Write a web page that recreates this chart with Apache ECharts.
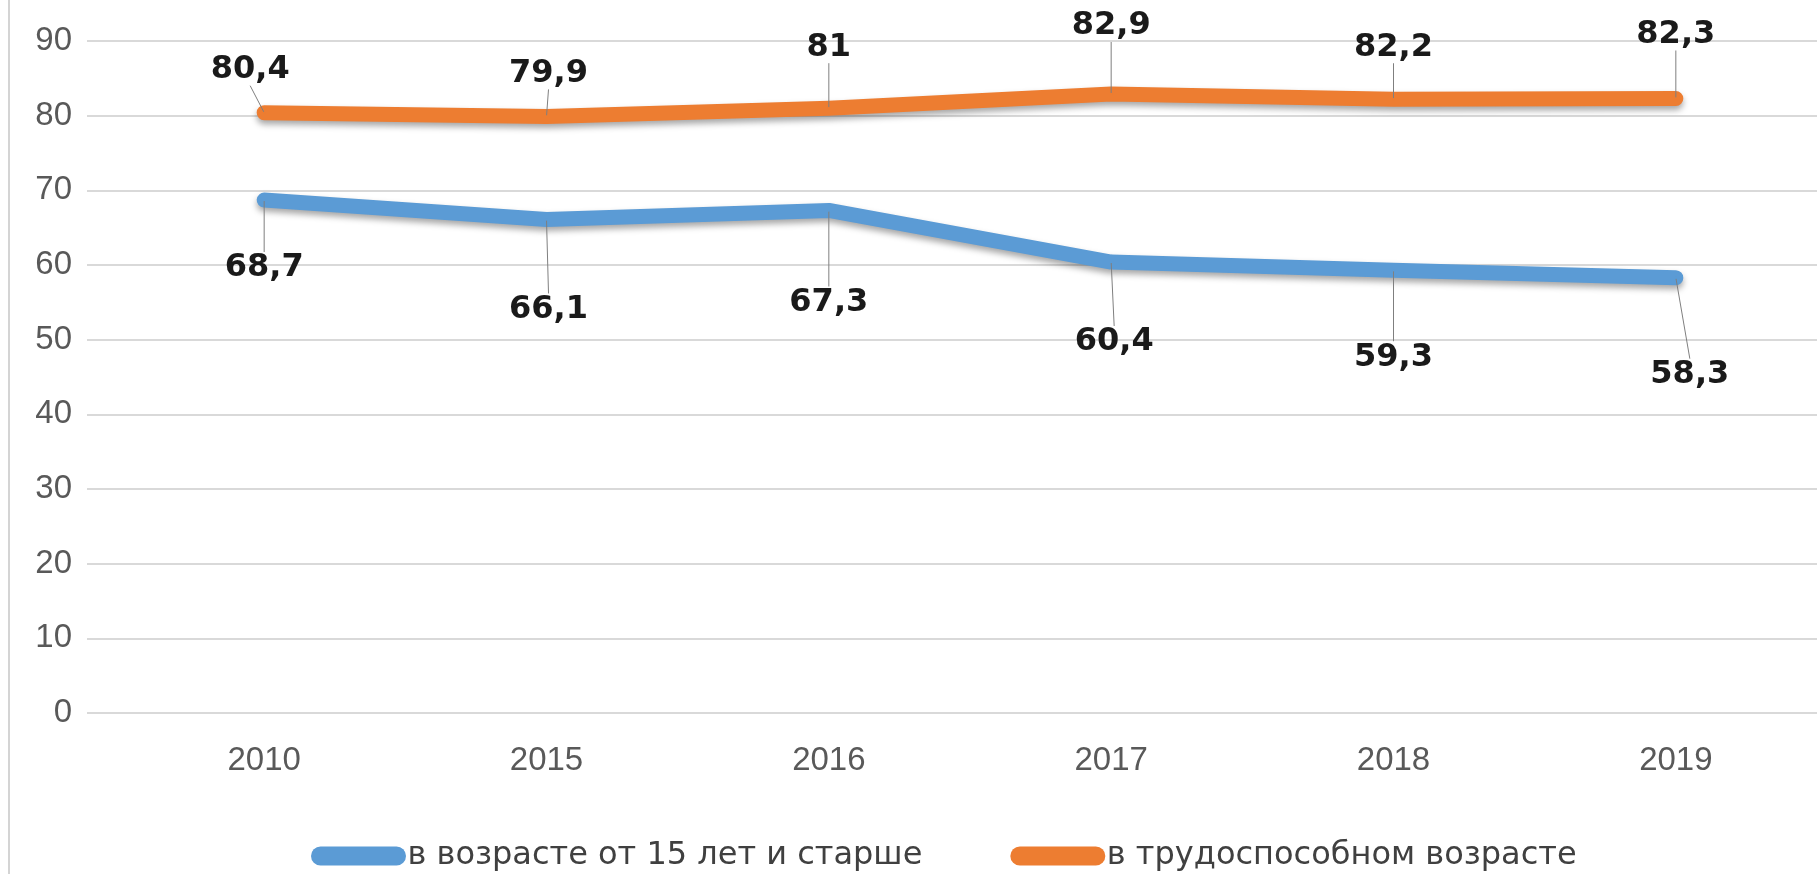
<!DOCTYPE html>
<html>
<head>
<meta charset="utf-8">
<script src="https://cdn.jsdelivr.net/npm/echarts@6/dist/echarts.min.js"></script>
<style>
html, body { margin: 0; padding: 0; background: #fff; }
#chart { width: 1817px; height: 874px; }
#frame { position: absolute; left: 8px; top: 0; width: 0; height: 874px; border-left: 2px solid #d4d4d4; }
</style>
</head>
<body>
<div id="chart"></div>
<div id="frame"></div>
<script>
// categories and values
const years = ["2010", "2015", "2016", "2017", "2018", "2019"];
const age15 = [68.7, 66.1, 67.3, 60.4, 59.3, 58.3];
const working = [80.4, 79.9, 81, 82.9, 82.2, 82.3];
const seriesNames = ["в возрасте от 15 лет и старше", "в трудоспособном возрасте"];

const chart = echarts.init(document.getElementById("chart"));

// label shifts (Excel moved them by hand)
const orangeShift = [[-14, -43], [2, -43], [0, -61], [0, -68], [0, -52], [0, -64]];
const blueShift = [[0, 68], [2, 90], [0, 92], [3, 80], [0, 87], [14, 97]];

// pill shaped legend marker
const pill = "path://M10,0 H90 A10,10 0 0 1 90,20 H10 A10,10 0 0 1 10,0 Z";

function moveLabel(shift) {
    return function (p) {
        let s = shift[p.dataIndex];
        return {
            x: p.rect.x + p.rect.width / 2 + s[0],
            y: p.rect.y + p.rect.height / 2 + s[1],
            align: "center",
            verticalAlign: "middle",
        };
    };
}

function makeLine(name, data, color, shift) {
    return {
        name: name,
        type: "line",
        data: data,
        symbol: "circle",
        symbolSize: 2,
        itemStyle: { color: color },
        lineStyle: {
            color: color,
            width: 15,
            cap: "round",
            join: "round",
            shadowColor: "rgba(0,0,0,0.35)",
            shadowBlur: 6,
            shadowOffsetY: 4,
        },
        label: {
            show: true,
            formatter: (p) => String(p.value).replace(".", ","),
            fontFamily: "DejaVu Sans",
            fontSize: 32,
            fontWeight: "bold",
            color: "#1a1a1a",
        },
        labelLine: {
            show: true,
            lineStyle: { color: "#7f7f7f", width: 1 },
        },
        labelLayout: moveLabel(shift),
        z: 3,
    };
}

chart.setOption({
    animation: false,
    grid: [
        { left: 123, right: 0, top: 41, bottom: 161 },
        { left: 87, right: 0, top: 41, bottom: 161 },
    ],
    legend: {
        data: seriesNames,
        left: 306,
        top: 833,
        icon: pill,
        itemWidth: 98,
        itemHeight: 19,
        itemGap: 88,
        textStyle: {
            fontFamily: "DejaVu Sans",
            fontSize: 32,
            lineHeight: 36,
            color: "#404040",
            padding: [0, 0, 0, -5],
        },
    },
    xAxis: [
        {
            type: "category",
            data: years,
            gridIndex: 0,
            axisLine: { show: false },
            axisTick: { show: false },
            axisLabel: {
                margin: 31,
                fontFamily: "Liberation Sans",
                fontSize: 33,
                color: "#595959",
            },
        },
        { type: "value", gridIndex: 1, show: false, min: 0, max: 1 },
    ],
    yAxis: [
        {
            type: "value",
            gridIndex: 0,
            min: 0,
            max: 90,
            interval: 10,
            splitLine: { show: false },
            axisLine: { show: false },
            axisTick: { show: false },
            axisLabel: {
                margin: 51,
                fontFamily: "Liberation Sans",
                fontSize: 33,
                color: "#595959",
            },
        },
        {
            type: "value",
            gridIndex: 1,
            min: 0,
            max: 90,
            interval: 10,
            axisLine: { show: false },
            axisTick: { show: false },
            axisLabel: { show: false },
            splitLine: { lineStyle: { color: "#d9d9d9", width: 2 } },
        },
    ],
    series: [
        makeLine(seriesNames[0], age15, "#5b9bd5", blueShift),
        makeLine(seriesNames[1], working, "#ed7d31", orangeShift),
    ],
});
</script>
</body>
</html>
